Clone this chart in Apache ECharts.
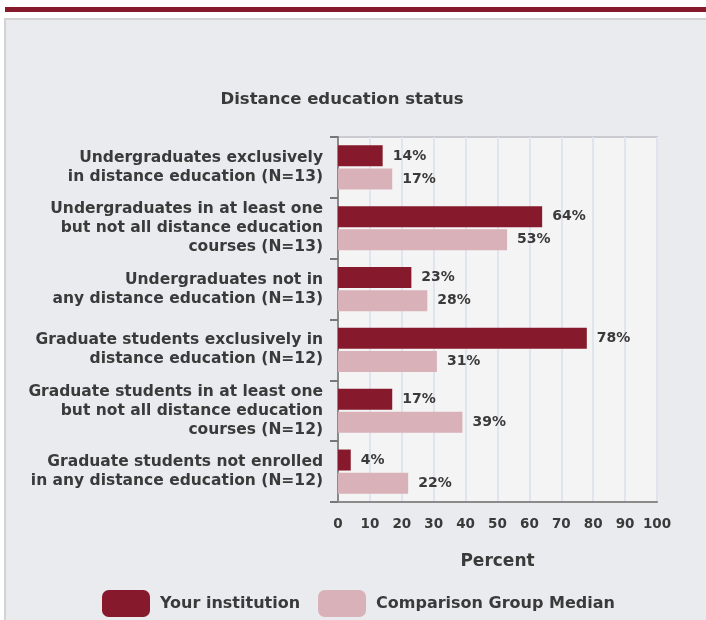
<!DOCTYPE html>
<html>
<head>
<meta charset="utf-8">
<script src="https://cdn.jsdelivr.net/npm/echarts@6/dist/echarts.min.js"></script>
<style>
html,body{margin:0;padding:0;background:#fff;}
#chart{width:706px;height:620px;}
</style>
</head>
<body>
<div id="chart"></div>
<script>
const categories = [
  "Undergraduates exclusively\nin distance education (N=13)",
  "Undergraduates in at least one\nbut not all distance education\ncourses (N=13)",
  "Undergraduates not in\nany distance education (N=13)",
  "Graduate students exclusively in\ndistance education (N=12)",
  "Graduate students in at least one\nbut not all distance education\ncourses (N=12)",
  "Graduate students not enrolled\nin any distance education (N=12)"
];
const yourInstitution = [14, 64, 23, 78, 17, 4];
const comparisonMedian = [17, 53, 28, 31, 39, 22];
const xTicks = [0, 10, 20, 30, 40, 50, 60, 70, 80, 90, 100];

const FONT = "DejaVu Sans";
const TXT = "#3a3a3a";
const DARK = "#861a2c";
const PINK = "#d9b2b9";

const chart = echarts.init(document.getElementById('chart'), null, {renderer: 'canvas'});
chart.setOption({
  animation: false,
  backgroundColor: '#ffffff',
  graphic: [
    {type: 'rect', z: -10, shape: {x: 5, y: 19, width: 720, height: 620}, style: {fill: '#eaebef', stroke: '#d3d3d3', lineWidth: 2}},
    {type: 'rect', z: -10, shape: {x: 5, y: 7, width: 720, height: 5}, style: {fill: '#861a2c'}}
  ],
  title: {
    text: 'Distance education status',
    left: 337, top: 86, textAlign: 'center',
    textStyle: {fontFamily: FONT, fontWeight: 'bold', fontSize: 16.5, color: TXT}
  },
  legend: {
    left: 102, top: 590, padding: 0,
    itemWidth: 48, itemHeight: 27, itemGap: 18,
    icon: 'roundRect',
    textStyle: {fontFamily: FONT, fontWeight: 'bold', fontSize: 16, color: TXT, padding: [0, 0, 0, 5]},
    data: ['Your institution', 'Comparison Group Median']
  },
  grid: {
    left: 338, top: 137, width: 319, height: 365,
    show: true, backgroundColor: '#f4f4f4', borderColor: '#c9cbd0', borderWidth: 2
  },
  xAxis: {
    type: 'value', min: 0, max: 100, interval: 10,
    name: 'Percent', nameLocation: 'middle', nameGap: 51,
    nameTextStyle: {fontFamily: FONT, fontWeight: 'bold', fontSize: 17, color: TXT},
    axisLine: {show: true, lineStyle: {color: '#8a8a8a', width: 2}},
    axisTick: {show: false},
    axisLabel: {fontFamily: FONT, fontWeight: 'bold', fontSize: 13.5, color: TXT, margin: 15,
      formatter: v => xTicks.includes(v) ? String(v) : ''},
    splitLine: {show: true, lineStyle: {color: '#dfe4ee', width: 2}}
  },
  yAxis: {
    type: 'category', data: categories, inverse: true,
    axisLine: {show: true, lineStyle: {color: '#8a8a8a', width: 2}},
    axisTick: {show: true, length: 8, lineStyle: {color: '#777', width: 2}},
    axisLabel: {fontFamily: FONT, fontWeight: 'bold', fontSize: 15.5, color: TXT, margin: 15,
      lineHeight: 19, align: 'right'},
    splitLine: {show: false}
  },
  series: [
    {
      name: 'Your institution', type: 'bar', data: yourInstitution,
      barWidth: 21, barGap: '10%',
      itemStyle: {color: DARK},
      label: {show: true, position: 'right', distance: 10, formatter: '{c}%',
        fontFamily: FONT, fontWeight: 'bold', fontSize: 14, color: TXT}
    },
    {
      name: 'Comparison Group Median', type: 'bar', data: comparisonMedian,
      barWidth: 21,
      itemStyle: {color: PINK},
      label: {show: true, position: 'right', distance: 10, formatter: '{c}%',
        fontFamily: FONT, fontWeight: 'bold', fontSize: 14, color: TXT}
    }
  ]
});
</script>
</body>
</html>
